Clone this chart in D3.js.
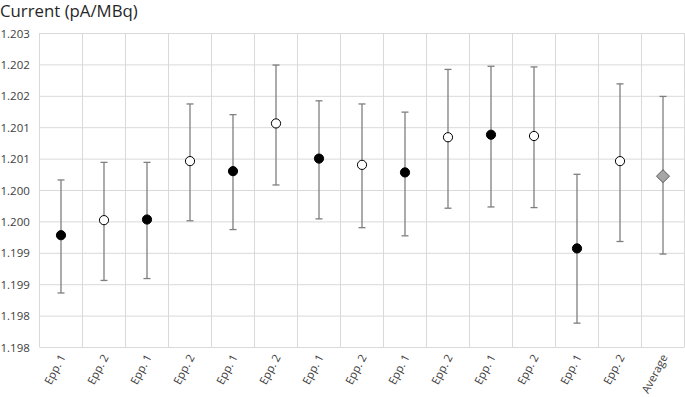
<!DOCTYPE html>
<html>
<head>
<meta charset="utf-8">
<script src="https://cdn.jsdelivr.net/npm/d3@7"></script>
<style>
  body { margin: 0; background: #fff; }
  svg text { font-family: "Open Sans", sans-serif; fill: #404040; }
</style>
</head>
<body>
<svg id="chart" width="685" height="397"></svg>
<script>
// categories along the x axis
const categories = ['Epp. 1', 'Epp. 2', 'Epp. 1', 'Epp. 2', 'Epp. 1', 'Epp. 2', 'Epp. 1', 'Epp. 2',
  'Epp. 1', 'Epp. 2', 'Epp. 1', 'Epp. 2', 'Epp. 1', 'Epp. 2', 'Average'];
// mean current, with lower / upper end of the error bar
const values = [1.19978, 1.20002, 1.20003, 1.20096, 1.20080, 1.20156, 1.20100, 1.20090,
  1.20078, 1.20134, 1.20138, 1.20136, 1.19957, 1.20096, 1.20072];
const lows = [1.19886, 1.19906, 1.19909, 1.20001, 1.19987, 1.20058, 1.20004, 1.19990,
  1.19977, 1.20021, 1.20023, 1.20022, 1.19838, 1.19968, 1.19948];
const highs = [1.20066, 1.20094, 1.20094, 1.20187, 1.20170, 1.20249, 1.20192, 1.20187,
  1.20174, 1.20242, 1.20247, 1.20246, 1.20075, 1.20219, 1.20199];
// y axis ticks and the (rounded) labels shown for them
const yTicks = [1.1980, 1.1985, 1.1990, 1.1995, 1.2000, 1.2005, 1.2010, 1.2015, 1.2020, 1.2025, 1.2030];
const yTickLabels = ['1.198', '1.198', '1.199', '1.199', '1.200', '1.200', '1.201', '1.201', '1.202', '1.202', '1.203'];

const plotLeft = 39.5, plotRight = 684.5, plotTop = 33, plotBottom = 347;
const svg = d3.select('#chart');

const x = d3.scaleBand()
  .domain(d3.range(categories.length))
  .range([plotLeft, plotRight]);
const y = d3.scaleLinear()
  .domain([1.198, 1.203])
  .range([plotBottom, plotTop]);

// title
svg.append('text')
  .attr('x', 0)
  .attr('y', 17)
  .attr('font-size', 16.8)
  .style('fill', '#262626')
  .text('Current (pA/MBq)');

// horizontal grid + y labels
const yAxis = svg.append('g')
  .attr('transform', 'translate(' + plotLeft + ',0)')
  .call(d3.axisLeft(y)
    .tickValues(yTicks)
    .tickFormat((d, i) => yTickLabels[i])
    .tickSize(-(plotRight - plotLeft))
    .tickPadding(10));
yAxis.select('.domain').remove();
yAxis.selectAll('.tick line').attr('stroke', '#d9d9d9');
yAxis.selectAll('.tick text')
  .attr('font-size', 11.5)
  .attr('text-anchor', 'start')
  .attr('x', -plotLeft + 0.5)
  .attr('dy', '0.35em');

// vertical grid lines (category borders)
svg.append('g').selectAll('line')
  .data(d3.range(categories.length + 1))
  .join('line')
  .attr('x1', d => plotLeft + d * x.step())
  .attr('x2', d => plotLeft + d * x.step())
  .attr('y1', plotTop)
  .attr('y2', plotBottom)
  .attr('stroke', '#d9d9d9');

// x labels
const xAxis = svg.append('g')
  .attr('transform', 'translate(0,' + plotBottom + ')')
  .call(d3.axisBottom(x).tickFormat(i => categories[i]).tickSize(0));
xAxis.select('.domain').remove();
xAxis.selectAll('.tick text')
  .attr('font-size', 11.2)
  .attr('text-anchor', 'end')
  .attr('dy', 0)
  .attr('y', 0)
  .attr('transform', 'translate(5,10) rotate(-62)');

const cx = i => x(i) + x.bandwidth() / 2;

// error bars
const bars = svg.append('g').attr('stroke', '#7f7f7f').attr('stroke-width', 1.3);
bars.selectAll('line.v')
  .data(values)
  .join('line')
  .attr('class', 'v')
  .attr('x1', (d, i) => cx(i))
  .attr('x2', (d, i) => cx(i))
  .attr('y1', (d, i) => y(lows[i]))
  .attr('y2', (d, i) => y(highs[i]));
bars.selectAll('line.hi')
  .data(values)
  .join('line')
  .attr('class', 'hi')
  .attr('x1', (d, i) => cx(i) - 3.5)
  .attr('x2', (d, i) => cx(i) + 3.5)
  .attr('y1', (d, i) => y(highs[i]))
  .attr('y2', (d, i) => y(highs[i]));
bars.selectAll('line.lo')
  .data(values)
  .join('line')
  .attr('class', 'lo')
  .attr('x1', (d, i) => cx(i) - 3.5)
  .attr('x2', (d, i) => cx(i) + 3.5)
  .attr('y1', (d, i) => y(lows[i]))
  .attr('y2', (d, i) => y(lows[i]));

// markers
const pts = values.map((v, i) => ({ v: v, i: i, cat: categories[i] }));
svg.append('g').selectAll('circle')
  .data(pts.filter(p => p.cat !== 'Average'))
  .join('circle')
  .attr('cx', p => cx(p.i))
  .attr('cy', p => y(p.v))
  .attr('r', 4.6)
  .attr('fill', p => p.cat === 'Epp. 1' ? '#000' : '#fff')
  .attr('stroke', '#000')
  .attr('stroke-width', 1);

svg.append('g').selectAll('path')
  .data(pts.filter(p => p.cat === 'Average'))
  .join('path')
  .attr('d', p => {
    const px = cx(p.i), py = y(p.v), s = 6.5;
    return 'M' + px + ',' + (py - s) + 'L' + (px + s) + ',' + py + 'L' + px + ',' + (py + s) + 'L' + (px - s) + ',' + py + 'Z';
  })
  .attr('fill', '#a6a6a6')
  .attr('stroke', '#595959')
  .attr('stroke-width', 1);
</script>
</body>
</html>
